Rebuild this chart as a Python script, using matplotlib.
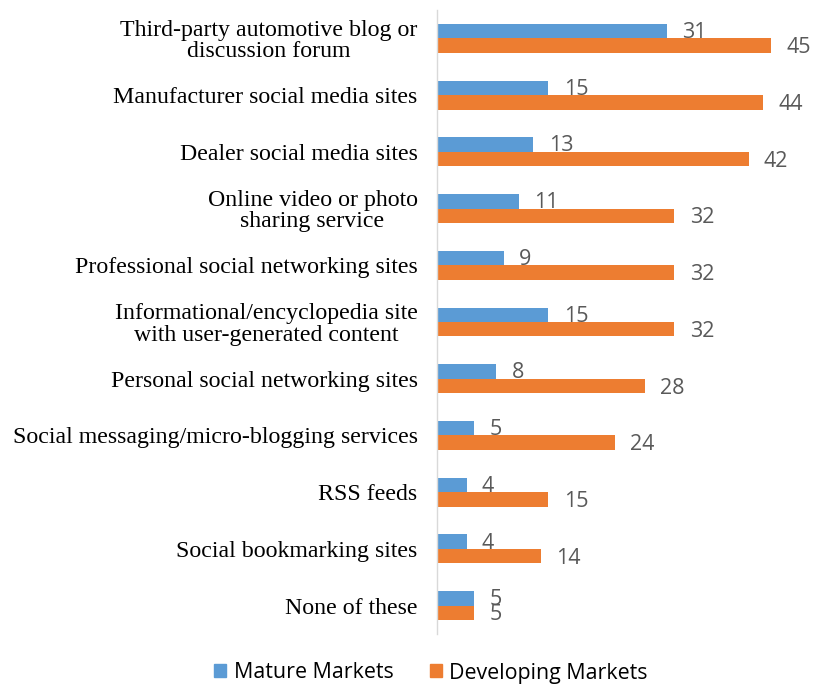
import matplotlib
matplotlib.use("Agg")
import matplotlib.pyplot as plt
import numpy as np

categories = [
    "Third-party automotive blog or\ndiscussion forum",
    "Manufacturer social media sites",
    "Dealer social media sites",
    "Online video or photo\nsharing service",
    "Professional social networking sites",
    "Informational/encyclopedia site\nwith user-generated content",
    "Personal social networking sites",
    "Social messaging/micro-blogging services",
    "RSS feeds",
    "Social bookmarking sites",
    "None of these",
]
mature = [31, 15, 13, 11, 9, 15, 8, 5, 4, 4, 5]
developing = [45, 44, 42, 32, 32, 32, 28, 24, 15, 14, 5]
series_names = ["Mature Markets", "Developing Markets"]

BLUE = "#5B9BD5"
ORANGE = "#ED7D31"
LABEL_GRAY = "#595959"

fig = plt.figure(figsize=(8.14, 6.86), dpi=100)
W, H = 814, 686
ax = fig.add_axes([437 / W, 1 - 634 / H, (808 - 437) / W, (634 - 10) / H])

y = np.arange(len(categories))
h = 0.255
ax.barh(y - h / 2, mature, height=h, color=BLUE, zorder=2)
ax.barh(y + h / 2, developing, height=h, color=ORANGE, zorder=2)

ax.set_xlim(0, 50)
ax.set_ylim(len(categories) - 0.5, -0.5)

for yi, v in zip(y, mature):
    ax.annotate(str(v), (v, yi - h / 2), xytext=(11, -1), textcoords="offset points",
                ha="left", va="center", fontsize=15.5, color=LABEL_GRAY, family="Open Sans")
for yi, v in zip(y, developing):
    ax.annotate(str(v), (v, yi + h / 2), xytext=(11, -1.5), textcoords="offset points",
                ha="left", va="center", fontsize=15.5, color=LABEL_GRAY, family="Open Sans")

ax.set_yticks(y)
ax.set_yticklabels(categories, family="Liberation Serif", fontsize=17.2,
                   multialignment="center", linespacing=1.0)
ax.tick_params(axis="y", length=0, pad=14)
ax.set_xticks([])
for s in ["top", "right", "bottom"]:
    ax.spines[s].set_visible(False)
ax.spines["left"].set_color("#d9d9d9")
ax.spines["left"].set_linewidth(1)

handles = [plt.Rectangle((0, 0), 1, 1, color=BLUE), plt.Rectangle((0, 0), 1, 1, color=ORANGE)]
fig.legend(handles, series_names, loc="center", bbox_to_anchor=(431 / W, 1 - 673 / H),
           ncol=2, frameon=False, prop={"family": "Open Sans", "size": 15.4},
           handlelength=0.55, handleheight=0.55, handletextpad=0.35, columnspacing=1.7)

fig.savefig("out.png", dpi=100)
